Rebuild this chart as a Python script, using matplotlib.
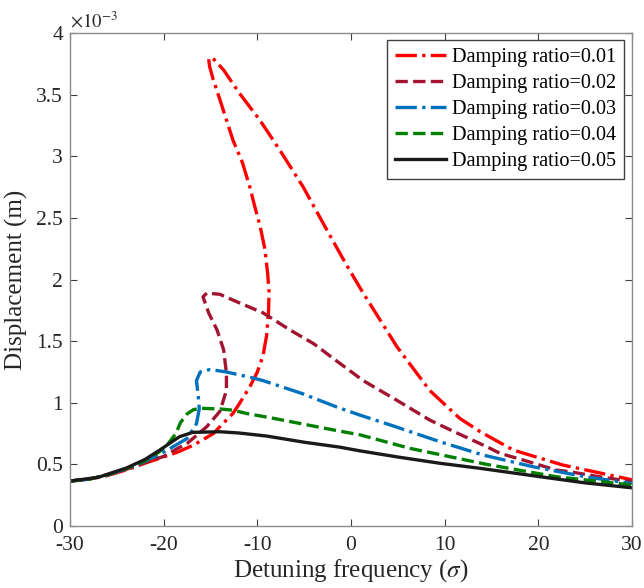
import matplotlib
matplotlib.use("Agg")
import matplotlib.pyplot as plt

plt.rcParams['font.family'] = ['Liberation Serif', 'DejaVu Serif']
plt.rcParams['mathtext.fontset'] = 'stix'
plt.rcParams['axes.unicode_minus'] = False

# displacement values are in units of 1e-3 m
labels = ['Damping ratio=0.01', 'Damping ratio=0.02', 'Damping ratio=0.03',
          'Damping ratio=0.04', 'Damping ratio=0.05']

x_001 = [-30, -28, -26, -24, -22, -20.4, -18.5, -16.8, -14.7, -14.0, -12.6, -11.9,
         -10.8, -10.0, -9.4, -9.0, -8.8, -8.75, -8.9, -9.2, -9.7, -10.3, -10.8,
         -11.6, -12.6, -14.0, -14.7, -15.1, -15.2, -14.8, -13.6, -11.9, -9.7, -7.6,
         -5.1, -3.0, -0.5, 1.3, 4.9, 8.4, 11.6, 13.8, 17.3, 22.6, 26.0, 30]
y_001 = [0.365, 0.38, 0.41, 0.455, 0.51, 0.55, 0.60, 0.657, 0.75, 0.806, 0.914, 0.995,
         1.13, 1.25, 1.38, 1.55, 1.75, 1.90, 2.05, 2.25, 2.43, 2.60, 2.75,
         2.95, 3.13, 3.46, 3.62, 3.73, 3.79, 3.80, 3.70, 3.51, 3.29, 3.05,
         2.75, 2.46, 2.12, 1.89, 1.455, 1.10, 0.874, 0.765, 0.617, 0.495, 0.44, 0.375]

x_002 = [-30, -28, -26, -24, -22, -20, -18.5, -17.5, -15.4, -14.0, -13.3, -13.3,
         -13.6, -14.3, -15.2, -15.8, -15.4, -14.0, -11.9, -9.4, -6.5, -4.0, -1.9,
         1.3, 4.9, 8.4, 10.6, 14.5, 15.9, 18.4, 21.9, 23.4, 26.5, 30]
y_002 = [0.365, 0.38, 0.413, 0.46, 0.515, 0.565, 0.63, 0.67, 0.806, 0.93, 1.10, 1.24,
         1.43, 1.59, 1.73, 1.86, 1.89, 1.88, 1.81, 1.73, 1.59, 1.48, 1.36,
         1.18, 1.02, 0.86, 0.78, 0.643, 0.59, 0.535, 0.454, 0.44, 0.40, 0.36]

x_003 = [-30, -28, -26, -24, -22, -20.75, -19.3, -17.5, -16.5, -16.2, -16.3, -16.5,
         -16.1, -15.05, -13.3, -10.4, -9.4, -5.3, -1.5, 0.95, 4.2, 9.5, 14.1, 19.5,
         25.0, 30]
y_003 = [0.365, 0.38, 0.415, 0.465, 0.525, 0.57, 0.63, 0.71, 0.83, 0.95, 1.05, 1.18,
         1.25, 1.27, 1.25, 1.20, 1.18, 1.077, 0.965, 0.90, 0.82, 0.684, 0.576, 0.48,
         0.40, 0.345]

x_004 = [-30, -28, -26, -24, -22, -20.5, -19.5, -18.7, -18.2, -17.5, -16.8, -16.0,
         -14.0, -12.6, -11.2, -8.3, -1.9, 0.95, 6.3, 14.5, 21.9, 25.5, 30]
y_004 = [0.365, 0.38, 0.415, 0.465, 0.53, 0.60, 0.67, 0.75, 0.84, 0.91, 0.945, 0.955,
         0.95, 0.94, 0.914, 0.874, 0.78, 0.74, 0.63, 0.50, 0.40, 0.37, 0.333]

x_005 = [-30, -27, -24, -22, -20.4, -19, -18.3, -16.9, -14, -12, -9, -5, -1.2,
         0.95, 5, 9.5, 13.8, 20.2, 25, 30]
y_005 = [0.365, 0.395, 0.47, 0.54, 0.617, 0.69, 0.725, 0.76, 0.765, 0.755, 0.73,
         0.68, 0.64, 0.61, 0.56, 0.509, 0.468, 0.40, 0.35, 0.31]

series = [(x_001, y_001, '#FF0000', '-.'),
          (x_002, y_002, '#A2142F', '--'),
          (x_003, y_003, '#0072BD', '-.'),
          (x_004, y_004, '#008000', '--'),
          (x_005, y_005, '#1a1a1a', '-')]

fig = plt.figure(figsize=(6.44, 5.88), dpi=100)
ax = fig.add_axes([0.1087, 0.1054, 0.8727, 0.8384])

for (xs, ys, c, ls), lab in zip(series, labels):
    ax.plot(xs, ys, color=c, linestyle=ls, linewidth=2.4, label=lab)

ax.set_xlim(-30, 30)
ax.set_ylim(0, 4)
ax.set_xticks(range(-30, 31, 10))
ax.set_yticks([i * 0.5 for i in range(9)])
ax.set_yticklabels(['0', '0.5', '1', '1.5', '2', '2.5', '3', '3.5', '4'])

for s in ax.spines.values():
    s.set_color('#8c8c8c')
    s.set_linewidth(1.0)
ax.tick_params(direction='in', length=5, width=0.8, color='#404040',
               labelsize=15.5, labelcolor='#262626', top=True, right=True)
ax.tick_params(axis='x', pad=7)
ax.tick_params(axis='y', pad=5)

ax.set_xlabel(r'Detuning frequency ($\sigma$)', fontsize=18, color='#262626',
              labelpad=2)
ax.set_ylabel('Displacement (m)', fontsize=18, color='#262626', labelpad=6)
ax.text(0.0, 1.003, r'$\times10^{-3}$', transform=ax.transAxes,
        fontsize=13.5, ha='left', va='bottom', color='#262626')

leg = ax.legend(loc='upper right', fontsize=14.6, handlelength=2.5,
                fancybox=False, framealpha=1, borderpad=0.4,
                labelspacing=0.33, handletextpad=0.3, borderaxespad=0,
                bbox_to_anchor=(0.986, 0.986))
leg.get_frame().set_edgecolor('#404040')
leg.get_frame().set_linewidth(1.0)

fig.savefig('out.png', dpi=100)
